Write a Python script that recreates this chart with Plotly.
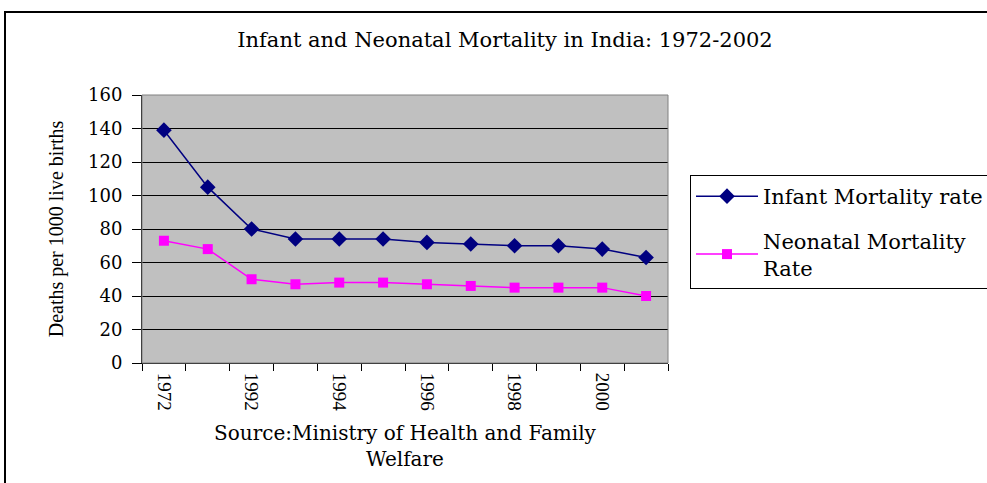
import plotly.graph_objects as go

years = ["1972", "1982", "1992", "1993", "1994", "1995", "1996", "1997", "1998", "1999", "2000", "2001"]
infant = [139, 105, 80, 74, 74, 74, 72, 71, 70, 70, 68, 63]
neonatal = [73, 68, 50, 47, 48, 48, 47, 46, 45, 45, 45, 40]
label_years = ["1972", "1992", "1994", "1996", "1998", "2000"]

pos = list(range(len(years)))
label_pos = [years.index(y) for y in label_years]
boundaries = [p - 0.5 for p in pos] + [pos[-1] + 0.5]

FONT = "Liberation Serif"
WIDE = "DejaVu Serif"

fig = go.Figure()
fig.add_trace(go.Scatter(
    x=pos, y=infant, mode="lines+markers", name="Infant Mortality rate", legendgroup="a",
    line=dict(color="#000080", width=1.5),
    marker=dict(symbol="diamond", size=12, color="#000080"),
))
fig.add_trace(go.Scatter(
    x=pos, y=neonatal, mode="lines+markers", name="Neonatal Mortality<br>Rate", legendgroup="b",
    line=dict(color="#FF00FF", width=1.5),
    marker=dict(symbol="square", size=10, color="#FF00FF"),
))
fig.add_trace(go.Scatter(x=[pos[0] - 0.5, pos[-1] + 0.5], y=[None, None], xaxis="x2",
                         showlegend=False, hoverinfo="skip", mode="lines"))

L, R, T, B = 142, 668, 95, 363
W, H = 987, 483
pw, ph = R - L, B - T

fig.update_layout(
    width=W, height=H,
    margin=dict(l=L, r=W - R, t=T, b=H - B, autoexpand=False),
    paper_bgcolor="white",
    plot_bgcolor="#C0C0C0",
    font=dict(family=FONT, color="black", size=18),
    title=dict(text="Infant and Neonatal Mortality in India: 1972-2002",
               x=505 / W, xanchor="center", y=1 - 40 / H, yanchor="middle",
               font=dict(family=WIDE, size=21, color="black")),
    xaxis=dict(range=[pos[0] - 0.5, pos[-1] + 0.5], tickvals=label_pos, ticktext=label_years,
               tickangle=90, ticks="", showgrid=False, zeroline=False,
               showline=True, linecolor="black", linewidth=1,
               tickfont=dict(family=FONT, size=19), ticklabelstandoff=5,
               title=dict(text="Source:Ministry of Health and Family<br>Welfare",
                          font=dict(family=WIDE, size=20), standoff=15)),
    xaxis2=dict(range=[pos[0] - 0.5, pos[-1] + 0.5], overlaying="x", anchor="y", side="bottom",
                tickvals=boundaries, ticks="outside", ticklen=7, tickcolor="black",
                showticklabels=False, showgrid=False, zeroline=False, showline=False),
    yaxis=dict(range=[0, 160], dtick=20, ticks="outside", ticklen=9, tickcolor="black",
               showgrid=True, gridcolor="black", gridwidth=1, zeroline=False,
               showline=True, linecolor="black", linewidth=1,
               tickfont=dict(family=WIDE, size=18), ticklabelstandoff=6,
               title=dict(text="Deaths per 1000 live births", font=dict(family=FONT, size=20),
                          standoff=19)),
    legend=dict(x=(690 - L) / pw, xanchor="left", y=(B - 175) / ph, yanchor="top",
                bgcolor="white", bordercolor="black", borderwidth=1, traceorder="grouped",
                font=dict(family=WIDE, size=21), tracegroupgap=14, itemwidth=62),
    showlegend=True,
    shapes=[
        dict(type="rect", xref="paper", yref="paper", x0=0, x1=1, y0=0, y1=1,
             line=dict(color="#808080", width=1), fillcolor="rgba(0,0,0,0)", layer="above"),
        dict(type="rect", xref="paper", yref="paper",
             x0=(5 - L) / pw, x1=(W + 20 - L) / pw, y0=(B - (H + 20)) / ph, y1=(B - 12) / ph,
             line=dict(color="black", width=2), fillcolor="rgba(0,0,0,0)", layer="below"),
    ],
)

fig.write_html("out.html", config={"displayModeBar": False})
with open("out.html", encoding="utf-8") as f:
    html = f.read()
html = html.replace("<body>", '<body style="margin:0;overflow:hidden">', 1)
with open("out.html", "w", encoding="utf-8") as f:
    f.write(html)
